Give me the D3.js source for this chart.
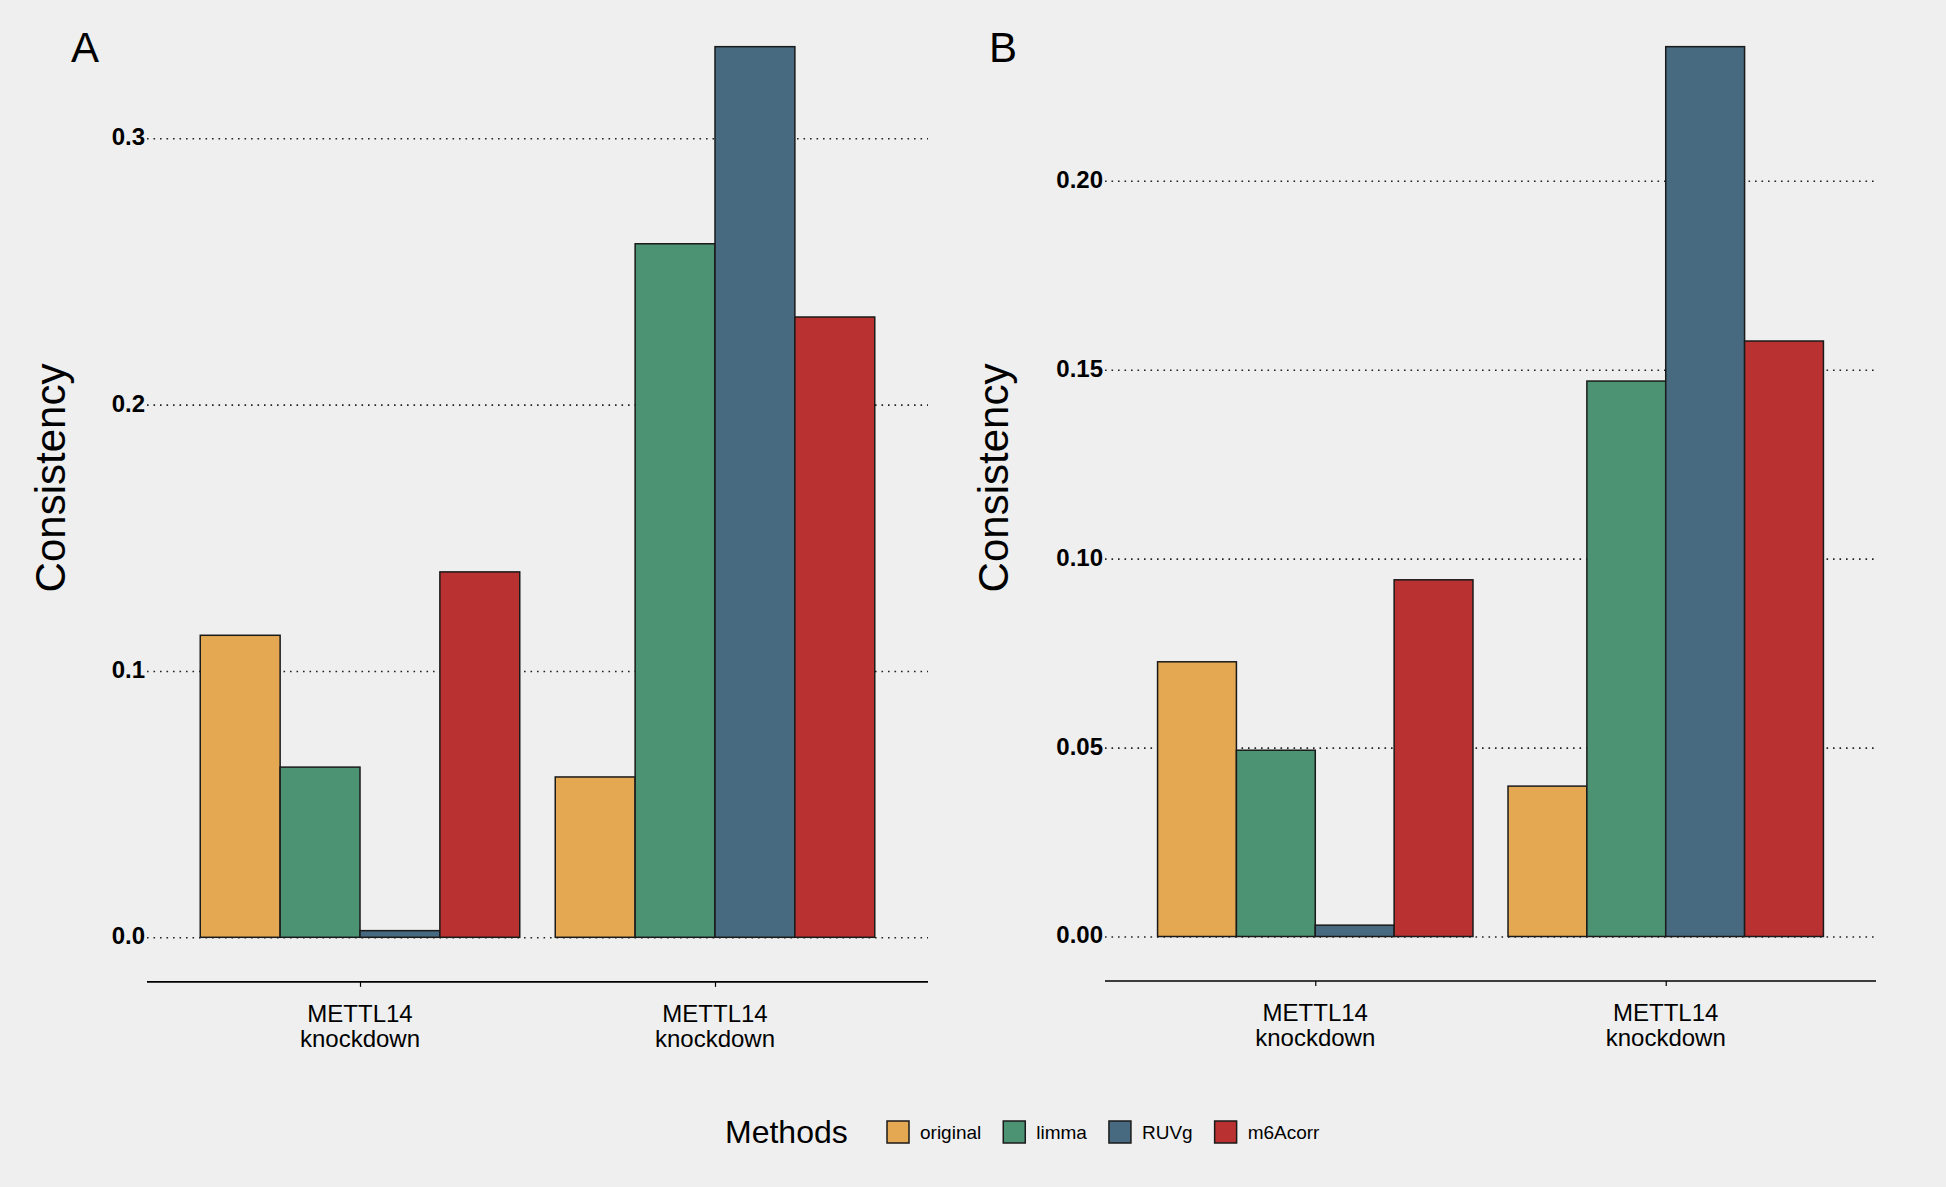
<!DOCTYPE html>
<html>
<head>
<meta charset="utf-8">
<script src="https://cdn.jsdelivr.net/npm/d3@7"></script>
<style>
  html, body { margin: 0; padding: 0; background: #efefef; }
  svg { display: block; }
  text { font-family: "Liberation Sans", Arial, Helvetica, sans-serif; }
</style>
</head>
<body>
<svg id="chart" width="1946" height="1187"></svg>
<script>
// ---------------- data ----------------
const methods = ["original", "limma", "RUVg", "m6Acorr"];
const colors = ["#E3A851", "#4B9373", "#476A80", "#B93130"];
const categories = ["METTL14 knockdown", "METTL14 knockdown"];

// Panel A values per category (order follows methods)
const panelA_group1 = [0.1134, 0.0639, 0.0025, 0.1372];
const panelA_group2 = [0.0602, 0.2604, 0.3344, 0.2329];
const panelA_ticks = [0.0, 0.1, 0.2, 0.3];
const panelA_tickLabels = ["0.0", "0.1", "0.2", "0.3"];

// Panel B values per category
const panelB_group1 = [0.0727, 0.0493, 0.0030, 0.0944];
const panelB_group2 = [0.0398, 0.1470, 0.2355, 0.1576];
const panelB_ticks = [0.00, 0.05, 0.10, 0.15, 0.20];
const panelB_tickLabels = ["0.00", "0.05", "0.10", "0.15", "0.20"];

const yTitle = "Consistency";
const legendTitle = "Methods";

// ---------------- drawing ----------------
const svg = d3.select("#chart");
svg.append("rect").attr("width", 1946).attr("height", 1187).attr("fill", "#efefef");

function drawPanel(cfg) {
  const g = svg.append("g");
  const groups = [cfg.group1, cfg.group2];
  const maxV = d3.max(groups.flat());

  const x = d3.scaleLinear().domain([0.4, 2.6]).range([cfg.x0, cfg.x1]);
  const unit = x(2) - x(1);
  const y = d3.scaleLinear().domain([0, cfg.refTick]).range([cfg.yZero, cfg.yRef]);
  const yBottom = y(-0.05 * maxV);

  // grid + tick labels (y axis)
  const yAxis = d3.axisLeft(y)
    .tickValues(cfg.ticks)
    .tickFormat((d, i) => cfg.tickLabels[i])
    .tickSize(-(cfg.x1 - cfg.x0))
    .tickPadding(2);
  const ya = g.append("g").attr("transform", `translate(${cfg.x0},0)`).call(yAxis);
  ya.select(".domain").remove();
  ya.selectAll(".tick line")
    .attr("stroke", "#222")
    .attr("stroke-width", 1.6)
    .attr("stroke-dasharray", "1.6,4.9");
  ya.selectAll(".tick text")
    .attr("font-family", "Liberation Sans, Arial, sans-serif")
    .attr("font-weight", "bold")
    .attr("font-size", 24)
    .attr("fill", "#000")
    .attr("dy", "0.27em");

  // bars
  const inner = d3.scaleBand().domain(methods).paddingInner(0).paddingOuter(0);
  groups.forEach((vals, gi) => {
    const c = x(gi + 1);
    inner.range([c - 0.45 * unit, c + 0.45 * unit]);
    g.append("g").selectAll("rect")
      .data(vals)
      .join("rect")
      .attr("x", (d, i) => inner(methods[i]))
      .attr("width", inner.bandwidth())
      .attr("y", d => y(d))
      .attr("height", d => y(0) - y(d))
      .attr("fill", (d, i) => colors[i])
      .attr("stroke", "#1a1a1a")
      .attr("stroke-width", 1.5);
  });

  // x axis
  const xAxis = d3.axisBottom(x).tickValues([1, 2]).tickSize(5).tickFormat("");
  const xa = g.append("g").attr("transform", `translate(0,${yBottom})`).call(xAxis);
  xa.select(".domain")
    .attr("d", `M${cfg.x0},0H${cfg.x1}`)
    .attr("stroke", "#000")
    .attr("stroke-width", 1.6);
  xa.selectAll(".tick line").attr("stroke", "#000").attr("stroke-width", 1.2);
  categories.forEach((lab, i) => {
    const parts = lab.split(" ");
    const t = g.append("text")
      .attr("x", x(i + 1))
      .attr("y", yBottom + 40)
      .attr("text-anchor", "middle")
      .attr("font-size", 24)
      .attr("fill", "#000");
    parts.forEach((p, k) => {
      t.append("tspan").attr("x", x(i + 1)).attr("dy", k === 0 ? 0 : 25).text(p);
    });
  });

  // y title
  g.append("text")
    .attr("transform", `translate(${cfg.titleX},${cfg.titleY}) rotate(-90)`)
    .attr("text-anchor", "middle")
    .attr("font-size", 42)
    .attr("fill", "#000")
    .text(yTitle);

  // panel tag
  g.append("text")
    .attr("x", cfg.tagX)
    .attr("y", 62)
    .attr("font-size", 42)
    .attr("fill", "#000")
    .text(cfg.tag);
}

drawPanel({
  tag: "A", tagX: 71,
  group1: panelA_group1, group2: panelA_group2,
  ticks: panelA_ticks, tickLabels: panelA_tickLabels,
  refTick: 0.3, yZero: 937.3, yRef: 138.3,
  x0: 147, x1: 928, titleX: 65, titleY: 478
});

drawPanel({
  tag: "B", tagX: 989,
  group1: panelB_group1, group2: panelB_group2,
  ticks: panelB_ticks, tickLabels: panelB_tickLabels,
  refTick: 0.2, yZero: 936.5, yRef: 180.8,
  x0: 1105, x1: 1876, titleX: 1008, titleY: 478
});

// ---------------- legend ----------------
const leg = svg.append("g");
leg.append("text")
  .attr("x", 725).attr("y", 1143)
  .attr("font-size", 32)
  .attr("fill", "#000")
  .text(legendTitle);

let lx = 887;
methods.forEach((m, i) => {
  leg.append("rect")
    .attr("x", lx).attr("y", 1121)
    .attr("width", 22).attr("height", 22)
    .attr("fill", colors[i])
    .attr("stroke", "#1a1a1a")
    .attr("stroke-width", 1.5);
  const t = leg.append("text")
    .attr("x", lx + 33).attr("y", 1139)
    .attr("font-size", 19)
    .attr("fill", "#000")
    .text(m);
  lx = lx + 33 + t.node().getComputedTextLength() + 22;
});
</script>
</body>
</html>
